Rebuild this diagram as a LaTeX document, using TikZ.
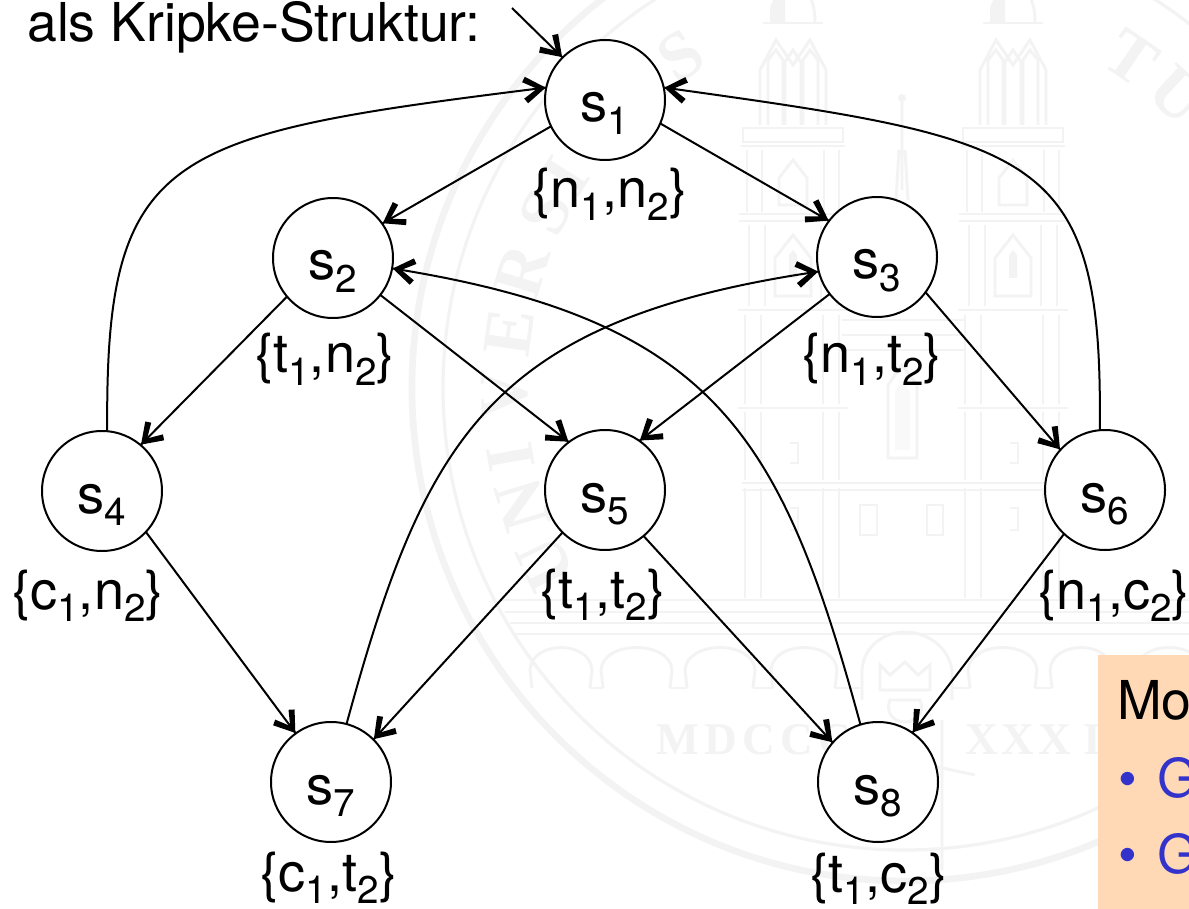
\documentclass[tikz,border=0pt]{standalone}
\usepackage{fontspec}
\setmainfont{TeX Gyre Heros}
\newfontfamily\wmfont{Liberation Serif}
\definecolor{wm}{HTML}{F3F3F3}
\definecolor{boxbg}{HTML}{FFD9B5}
\definecolor{bluetxt}{HTML}{3333CC}
\newcommand{\subn}[1]{\smash{\raisebox{-9.5pt}{\fontsize{29}{29}\selectfont #1}}}
\tikzset{
  state/.style={circle,draw=black,fill=white,line width=1.5pt,minimum size=90pt,inner sep=0pt,outer sep=0pt,
    font=\fontsize{40.6}{41}\selectfont,text height=33pt,text depth=0pt},
  lab/.style={anchor=base,inner sep=0pt,font=\fontsize{40.6}{41}\selectfont},
  txt/.style={anchor=base west,inner sep=0pt,font=\fontsize{40.2}{41}\selectfont},
  conn/.style={line width=1.5pt},
  barbtip/.pic={\fill
       (-0.5pt,0pt) -- (-15pt,10pt) -- (-17.5pt,6.2pt) -- (-7pt,0pt) -- (-17.5pt,-6.2pt) -- (-15pt,-10pt) -- cycle;},
  wml/.style={draw=wm,line width=2.2pt},
  wmletter/.style={inner sep=0pt,text=wm,font=\wmfont\fontsize{52}{52}\selectfont\bfseries},
  wmtext/.style={anchor=base west,inner sep=0pt,text=wm,font=\wmfont\fontsize{34}{34}\selectfont\bfseries},
}
\begin{document}
\begin{tikzpicture}[x=0.75pt,y=-0.75pt]
\useasboundingbox (0,0) rectangle (1189,909);
\clip (0,0) rectangle (1189,909);
\fill[white] (0,0) rectangle (1189,909);
% ---- faint seal in the background
\draw[draw=wm,line width=5pt] (905,388) circle[radius=493];
\draw[draw=wm,line width=2.4pt] (905,388) circle[radius=462];
\foreach \l/\a [count=\i] in {U/206,N/197,I/190,V/181,E/172,R/163,S/154,I/148,T/141,A/132,S/124,T/55.5,U/47}
  \node[wmletter,rotate=\a-90] (wmletter\i) at ({905+400*cos(\a)},{388-400*sin(\a)}) {\l};
\node[wmtext] (wmyeara) at (656,754) {M\hspace{4pt}D\hspace{4pt}C\hspace{4pt}C\hspace{4pt}C};
\node[wmtext] (wmyearb) at (965,754) {X\hspace{3pt}X\hspace{3pt}X\hspace{9pt}I\hspace{6pt}I\hspace{6pt}I};
% towers
\foreach \c in {793,1013}{
 \begin{scope}[xshift=\c*0.75pt]
  \fill[wm] (-23,22) -- (-23,8) .. controls (-21,2) and (-19,-4) .. (-12,-8) -- (-8,-8) -- (-8,22) -- cycle;
  \draw[wml] (22,22) .. controls (22,10) and (20,2) .. (15,-8);
  \draw[wml] (-30,23) -- (30,23);
  \draw[wml] (-33,125) -- (-33,70) -- (-17,40) -- (0,65) -- (17,40) -- (33,70) -- (33,125);
  \draw[wml] (-25,125) -- (-25,60) -- (-17,50) -- (-10,60) -- (-10,125);
  \draw[wml] (-8,125) -- (-8,62) -- (0,50) -- (8,62) -- (8,125);
  \draw[wml] (10,125) -- (10,60) -- (17,50) -- (25,60) -- (25,125);
  \draw[wml] (-50,128) rectangle (50,142);
  \draw[wml] (-52,146) -- (52,146);
  \foreach \x in {-46,-31,31,46} \draw[wml] (\x,150) -- (\x,212);
  \draw[wml] (-14,205) -- (-14,178) -- (0,160) -- (14,178) -- (14,205) -- cycle;
  \draw[wml] (-54,214) -- (54,214);
  \draw[wml] (-54,221) -- (54,221);
  \foreach \x in {-44,-28,28,44} \draw[wml] (\x,225) -- (\x,306);
  \draw[wml] (-18,296) -- (-18,258) -- (0,235) -- (18,258) -- (18,296) -- cycle;
  \fill[wm] (-4,278) -- (-4,255) -- (0,250) -- (4,255) -- (4,278) -- cycle;
  \draw[wml] (-55,310) -- (55,310);
  \foreach \x in {-48,-32,30,46} \draw[wml] (\x,315) -- (\x,404);
  \draw[wml] (-55,408) -- (55,408);
  \draw[wml] (-3,443) -- (5,443) -- (5,463) -- (-3,463);
  \foreach \x in {-48,-32,30,46} \draw[wml] (\x,412) -- (\x,480);
  \draw[wml] (-3,508) -- (5,508) -- (5,530) -- (-3,530);
  \foreach \x in {-48,-32,30,46} \draw[wml] (\x,488) -- (\x,598);
 \end{scope}
}
% centre building
\draw[wml] (842,320) -- (965,320) (842,335) -- (965,335) (842,350) -- (965,350);
\draw[wml] (742,483) -- (1064,483) (742,490) -- (1064,490);
\draw[wml] (902,100) -- (902,190) (896,200) -- (899,150) (908,200) -- (905,150);
\fill[wm] (902,98) circle[radius=4];
\draw[wml] (888,458) -- (888,385) -- (902,365) -- (917,385) -- (917,458) -- cycle;
\fill[wm!50] (895,392) -- (902,380) -- (910,392) -- (910,450) -- (895,450) -- cycle;
\draw[wml] (860,535) -- (860,505) -- (877,505) -- (877,535) -- cycle;
\draw[wml] (927,535) -- (927,505) -- (943,505) -- (943,535) -- cycle;
% bands
\draw[wml] (500,600) -- (1189,600) (505,612) -- (1189,612) (510,623) -- (1189,623) (515,634) -- (1189,634);
% arcade
\foreach \l/\r in {532/590,603/670,687/753,773/835,970/1035,1052/1110,1138/1200}{
  \draw[wml] (\l,688) -- (\l-2,670) .. controls (\l,640) and (\r,640) .. (\r+2,670) -- (\r,688);
}
\foreach \l/\r in {590/603,670/687,753/773,835/862,952/970,1035/1052,1110/1138}
  \draw[wml] (\l,688) -- (\r,688);
% crown emblem
\draw[wml] (862,700) -- (862,670) .. controls (864,645) and (885,632) .. (905,632) .. controls (925,632) and (948,645) .. (952,670) -- (952,700);
\draw[wml] (880,690) -- (880,665) -- (890,675) -- (905,662) -- (918,675) -- (930,665) -- (930,690) -- cycle;
\draw[wml] (890,700) .. controls (885,712) and (893,722) .. (905,722) .. controls (917,722) and (925,712) .. (920,700) -- cycle;
\draw[wml] (942,720) -- (942,870) (905,760) -- (975,775);
% ---- state graph
\node[state] (s1) at (605,100) {s\subn{1}};
\node[state] (s2) at (333,258) {s\subn{2}};
\node[state] (s3) at (877,257) {s\subn{3}};
\node[state] (s4) at (102,491) {s\subn{4}};
\node[state] (s5) at (605,490) {s\subn{5}};
\node[state] (s6) at (1105,490) {s\subn{6}};
\node[state] (s7) at (331,782) {s\subn{7}};
\node[state] (s8) at (878,782) {s\subn{8}};
\node[lab] (l1) at (610,208) {\{n\subn{1},n\subn{2}\}};
\node[lab] (l2) at (325,373) {\{t\subn{1},n\subn{2}\}};
\node[lab] (l3) at (872,373) {\{n\subn{1},t\subn{2}\}};
\node[lab] (l4) at (88,609) {\{c\subn{1},n\subn{2}\}};
\node[lab] (l5) at (603,608) {\{t\subn{1},t\subn{2}\}};
\node[lab] (l6) at (1114,609) {\{n\subn{1},c\subn{2}\}};
\node[lab] (l7) at (329,891) {\{c\subn{1},t\subn{2}\}};
\node[lab] (l8) at (879,892) {\{t\subn{1},c\subn{2}\}};
\node[txt] (title) at (27,42) {als Kripke-Struktur:};
\coordinate (init) at (512,8);
\draw[conn] (init) -- (s1.135);
\draw[conn] (s1.206) -- (s2.35);
\draw[conn] (s1.-23) -- (s3.143);
\draw[conn] (s2.220) -- (s4.50);
\draw[conn] (s2.-38) -- (s5.127);
\draw[conn] (s3.218) -- (s5.55);
\draw[conn] (s3.-36) -- (s6.138);
\draw[conn] (s4.-43) -- (s7.126);
\draw[conn] (s5.225) -- (s7.45);
\draw[conn] (s5.-50) -- (s8.139);
\draw[conn] (s6.227) -- (s8.55);
\draw[conn] (s4.85) .. controls (105,150) and (165,135) .. (s1.168);
\draw[conn] (s6.95) .. controls (1103,150) and (1040,140) .. (s1.12);
\draw[conn] (s7.75) .. controls (425,437) and (490,320) .. (s3.194);
\draw[conn] (s8.107) .. controls (782,437) and (717,320) .. (s2.-10);
\foreach \t/\r in {s1.135/-45.6,s2.35/210,s3.143/-30,s4.50/225,s5.127/-37.5,s5.55/217.4,s6.138/-49.8,s7.126/-53.5,s7.45/227.5,s8.139/-47.7,s8.55/232.8,s1.168/7.2,s1.12/172,s3.194/8.4,s2.-10/170.9}
  \pic[rotate=\r] at (\t) {barbtip};
% ---- box at lower right
\node[draw=none,fill=boxbg,anchor=north west,inner sep=0pt,minimum width=68.25pt,minimum height=190.5pt] (box) at (1098,655) {};
\node[txt] (mo) at (1117,719) {Mo};
\node[txt,text=bluetxt] (b1) at (1118,797) {•};
\node[txt,text=bluetxt] (g1) at (1157,797) {G};
\node[txt,text=bluetxt] (b2) at (1118,873) {•};
\node[txt,text=bluetxt] (g2) at (1157,873) {G};
\end{tikzpicture}
\end{document}
